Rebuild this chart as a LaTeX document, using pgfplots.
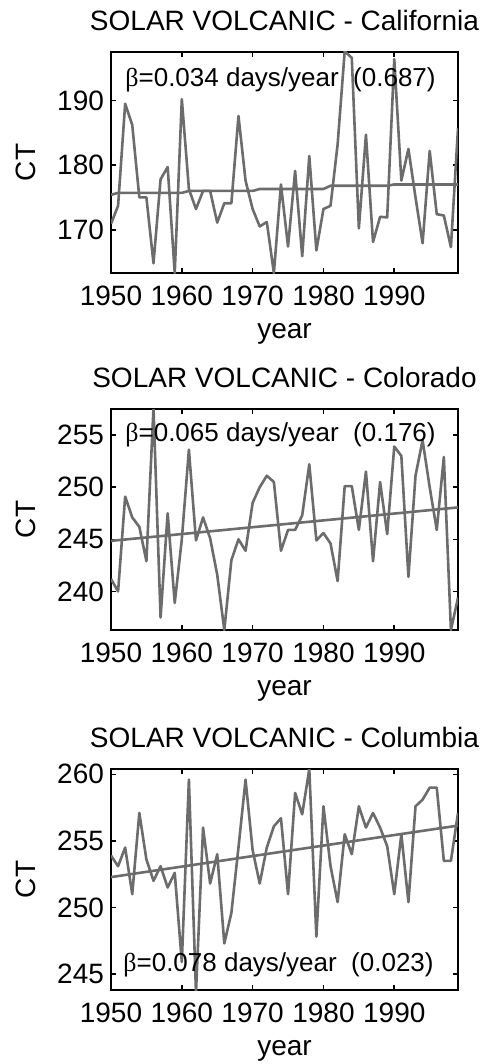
\documentclass[border=0pt]{standalone}
\usepackage{fontspec}
\setmainfont{Liberation Sans}
\newfontfamily\symb{Liberation Serif}
\usepackage{pgfplots}
\usepackage{pgfplotstable}
\pgfplotsset{compat=1.18}

\definecolor{lgray}{RGB}{108,108,108}

% CT per year
\pgfplotstableread{
year ct
1950 170.9
1951 173.7
1952 189.5
1953 186.2
1954 175.0
1955 175.0
1956 164.8
1957 177.8
1958 179.7
1959 163.3
1960 190.2
1961 176.3
1962 173.2
1963 176.0
1964 176.0
1965 171.1
1966 174.1
1967 174.1
1968 187.6
1969 177.6
1970 173.2
1971 170.5
1972 171.2
1973 163.3
1974 177.0
1975 167.4
1976 179.1
1977 165.9
1978 181.4
1979 166.8
1980 173.2
1981 173.7
1982 183.2
1983 197.6
1984 196.6
1985 170.2
1986 184.7
1987 168.1
1988 172.0
1989 171.9
1990 196.4
1991 177.6
1992 182.5
1993 175.0
1994 167.9
1995 182.2
1996 172.4
1997 172.2
1998 167.3
1999 185.7
}\california

\pgfplotstableread{
year ct
1950 241.2
1951 240.0
1952 249.1
1953 247.1
1954 246.2
1955 242.9
1956 257.6
1957 237.5
1958 247.5
1959 238.9
1960 245.0
1961 253.6
1962 244.9
1963 247.1
1964 245.1
1965 241.6
1966 236.3
1967 243.0
1968 245.0
1969 243.9
1970 248.5
1971 250.0
1972 251.1
1973 250.5
1974 243.9
1975 245.9
1976 245.9
1977 247.3
1978 252.2
1979 244.9
1980 245.6
1981 244.6
1982 241.0
1983 250.1
1984 250.1
1985 245.9
1986 251.5
1987 242.9
1988 250.5
1989 245.5
1990 253.9
1991 253.0
1992 241.4
1993 251.1
1994 254.5
1995 250.0
1996 245.9
1997 252.9
1998 236.3
1999 239.4
}\colorado

\pgfplotstableread{
year ct
1950 253.9
1951 253.1
1952 254.5
1953 251.0
1954 257.1
1955 253.6
1956 252.0
1957 253.1
1958 251.5
1959 252.6
1960 245.9
1961 259.6
1962 243.6
1963 256.0
1964 251.8
1965 254.0
1966 247.3
1967 249.6
1968 254.5
1969 259.6
1970 254.3
1971 251.8
1972 254.5
1973 256.1
1974 256.7
1975 251.0
1976 258.6
1977 257.0
1978 260.4
1979 247.8
1980 257.6
1981 253.1
1982 250.4
1983 255.5
1984 254.0
1985 257.6
1986 256.0
1987 257.1
1988 256.0
1989 254.6
1990 251.0
1991 255.5
1992 250.4
1993 257.6
1994 258.1
1995 259.0
1996 259.0
1997 253.5
1998 253.5
1999 257.1
}\columbia

\pgfplotsset{
  ct/.style={
    width=173.5pt, height=110.5pt, scale only axis,
    xmin=1950, xmax=1999,
    xtick={1950,1960,1970,1980,1990},
    axis line style={line width=1pt},
    tick style={line width=0.8pt, black},
    major tick length=2.5pt,
    tick align=inside,
    font=\fontsize{14}{16}\selectfont,
    /pgf/number format/assume math mode=true,
    /pgf/number format/1000 sep={},
    xticklabel style={anchor=base, yshift=-16pt},
    xlabel={year},
    xlabel style={at={(axis description cs:0.5,0)}, anchor=base, yshift=-32.5pt},
    ylabel={CT},
    ylabel style={at={(axis description cs:-0.245,0.5)}, anchor=center},
    title style={at={(axis description cs:0.5,1)}, anchor=base, yshift=5pt},
    clip=true,
  },
  data/.style={lgray, line width=1.3pt, no markers, line join=round},
}

\begin{document}
\begin{tikzpicture}
\begin{axis}[ct, at={(55.5pt,-26pt)}, anchor=north west,
    ymin=163.3, ymax=197.5, ytick={170,180,190},
    title={SOLAR VOLCANIC - California}]
\addplot[data] table[x=year, y=ct] {\california};
\addplot[data] coordinates {(1950,175.4) (1951,175.7) (1960,175.7) (1961,176.0) (1970,176.0) (1971,176.3) (1980,176.3) (1981,176.8) (1989,176.8) (1990,177.0) (1999,177.0)};
\node[anchor=base west, inner sep=0, font=\fontsize{13}{15}\selectfont] at (rel axis cs:0,1) [xshift=7pt, yshift=-17.5pt] {{\symb β}=0.034 days/year\ \ (0.687)};
\end{axis}

\begin{axis}[ct, at={(55.5pt,-204.5pt)}, anchor=north west,
    ymin=236.3, ymax=257.5, ytick={240,245,250,255},
    title={SOLAR VOLCANIC - Colorado}]
\addplot[data] table[x=year, y=ct] {\colorado};
\addplot[data] coordinates {(1950,244.85) (1999,248.06)};
\node[anchor=base west, inner sep=0, font=\fontsize{13}{15}\selectfont] at (rel axis cs:0,1) [xshift=7pt, yshift=-16pt] {{\symb β}=0.065 days/year\ \ (0.176)};
\end{axis}

\begin{axis}[ct, at={(55.5pt,-384.5pt)}, anchor=north west,
    ymin=243.8, ymax=260.4, ytick={245,250,255,260},
    title={SOLAR VOLCANIC - Columbia}]
\addplot[data] table[x=year, y=ct] {\columbia};
\addplot[data] coordinates {(1950,252.28) (1999,256.15)};
\node[anchor=base west, inner sep=0, font=\fontsize{13}{15}\selectfont] at (rel axis cs:0,0) [xshift=6pt, yshift=9.5pt] {{\symb β}=0.078 days/year\ \ (0.023)};
\end{axis}

\pgfresetboundingbox
\useasboundingbox (0,0) rectangle (245pt,-532pt);
\end{tikzpicture}
\end{document}
